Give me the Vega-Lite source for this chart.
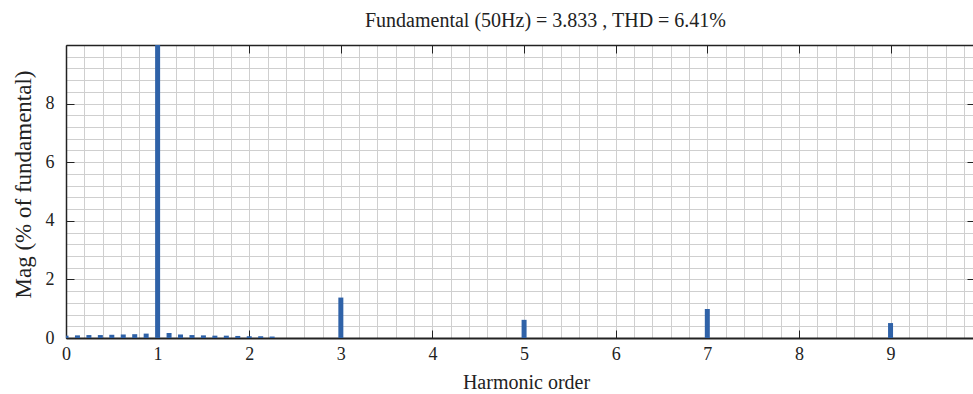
{
  "$schema": "https://vega.github.io/schema/vega-lite/v6.json",
  "autosize": "none",
  "width": 907,
  "height": 293,
  "padding": {"left": 66, "top": 45, "right": 0, "bottom": 56},
  "background": "white",
  "config": {
    "view": {"stroke": null},
    "font": "Liberation Serif",
    "scale": {"continuousPadding": 0},
    "axis": {"labelFont": "Liberation Serif", "titleFont": "Liberation Serif", "labelFontSize": 18, "titleFontSize": 20, "labelColor": "#222", "titleColor": "#222", "titleFontWeight": "normal", "domainColor": "#222", "tickColor": "#222", "labelFlush": false}
  },
  "title": {"text": "Fundamental (50Hz) = 3.833 , THD = 6.41%", "font": "Liberation Serif", "fontSize": 20, "fontWeight": "normal", "color": "#222", "dx": 26, "offset": 14},
  "data": {"values": [
    {"h": 0, "mag": 0.08},
    {"h": 0.125, "mag": 0.09},
    {"h": 0.25, "mag": 0.1},
    {"h": 0.375, "mag": 0.1},
    {"h": 0.5, "mag": 0.11},
    {"h": 0.625, "mag": 0.12},
    {"h": 0.75, "mag": 0.13},
    {"h": 0.875, "mag": 0.15},
    {"h": 1, "mag": 100},
    {"h": 1.125, "mag": 0.17},
    {"h": 1.25, "mag": 0.12},
    {"h": 1.375, "mag": 0.1},
    {"h": 1.5, "mag": 0.09},
    {"h": 1.625, "mag": 0.08},
    {"h": 1.75, "mag": 0.08},
    {"h": 1.875, "mag": 0.07},
    {"h": 2, "mag": 0.06},
    {"h": 2.125, "mag": 0.06},
    {"h": 2.25, "mag": 0.05},
    {"h": 3, "mag": 1.38},
    {"h": 5, "mag": 0.62},
    {"h": 7, "mag": 0.99},
    {"h": 9, "mag": 0.51}
  ]},
  "resolve": {"axis": {"x": "independent", "y": "independent"}},
  "layer": [
    {
      "mark": {"type": "bar", "size": 5, "color": "#2f62a8", "clip": true},
      "encoding": {
        "x": {"field": "h", "type": "quantitative", "scale": {"domain": [0, 9.9], "nice": false, "zero": false, "padding": 0},
          "axis": {"orient": "bottom", "grid": true, "gridColor": "#cfcfcf", "gridWidth": 1, "labels": false, "ticks": false, "domain": false, "title": null,
            "values": [0,0.2,0.4,0.6,0.8,1,1.2,1.4,1.6,1.8,2,2.2,2.4,2.6,2.8,3,3.2,3.4,3.6,3.8,4,4.2,4.4,4.6,4.8,5,5.2,5.4,5.6,5.8,6,6.2,6.4,6.6,6.8,7,7.2,7.4,7.6,7.8,8,8.2,8.4,8.6,8.8,9,9.2,9.4,9.6,9.8]}},
        "y": {"field": "mag", "type": "quantitative", "scale": {"domain": [0, 10], "nice": false, "padding": 0},
          "axis": {"orient": "left", "grid": true, "gridColor": "#cfcfcf", "gridWidth": 1, "labels": false, "ticks": false, "domain": false, "title": null,
            "values": [0,0.4,0.8,1.2,1.6,2,2.4,2.8,3.2,3.6,4,4.4,4.8,5.2,5.6,6,6.4,6.8,7.2,7.6,8,8.4,8.8,9.2,9.6,10]}}
      }
    },
    {
      "mark": {"type": "bar", "size": 5, "opacity": 0, "clip": true},
      "encoding": {
        "x": {"field": "h", "type": "quantitative", "scale": {"domain": [0, 9.9], "nice": false, "zero": false, "padding": 0},
          "axis": {"orient": "bottom", "grid": false, "ticks": false, "domain": true, "domainWidth": 2, "labelPadding": 7, "values": [0,1,2,3,4,5,6,7,8,9], "title": "Harmonic order", "titlePadding": 9, "titleX": 460}},
        "y": {"field": "mag", "type": "quantitative", "scale": {"domain": [0, 10], "nice": false, "padding": 0},
          "axis": {"orient": "left", "grid": false, "ticks": false, "domain": true, "domainWidth": 1.5, "labelPadding": 12, "values": [0,2,4,6,8], "title": "Mag (% of fundamental)", "titleFontSize": 23, "titlePadding": 10, "titleY": 139}}
      }
    },
    {
      "mark": {"type": "bar", "size": 5, "opacity": 0, "clip": true},
      "encoding": {
        "x": {"field": "h", "type": "quantitative", "scale": {"domain": [0, 9.9], "nice": false, "zero": false, "padding": 0},
          "axis": {"orient": "bottom", "grid": false, "labels": false, "domain": false, "tickSize": -8, "values": [0,1,2,3,4,5,6,7,8,9], "title": null}},
        "y": {"field": "mag", "type": "quantitative", "scale": {"domain": [0, 10], "nice": false, "padding": 0},
          "axis": {"orient": "left", "grid": false, "labels": false, "domain": false, "tickSize": -8, "values": [0,2,4,6,8], "title": null}}
      }
    },
    {
      "mark": {"type": "bar", "size": 5, "opacity": 0, "clip": true},
      "encoding": {
        "x": {"field": "h", "type": "quantitative", "scale": {"domain": [0, 9.9], "nice": false, "zero": false, "padding": 0},
          "axis": {"orient": "top", "grid": false, "labels": false, "domain": true, "domainWidth": 1.5, "tickSize": -8, "values": [0,1,2,3,4,5,6,7,8,9], "title": null}},
        "y": {"field": "mag", "type": "quantitative", "scale": {"domain": [0, 10], "nice": false, "padding": 0},
          "axis": {"orient": "right", "grid": false, "labels": false, "domain": false, "tickSize": -6, "values": [0,2,4,6,8], "title": null}}
      }
    }
  ]
}
